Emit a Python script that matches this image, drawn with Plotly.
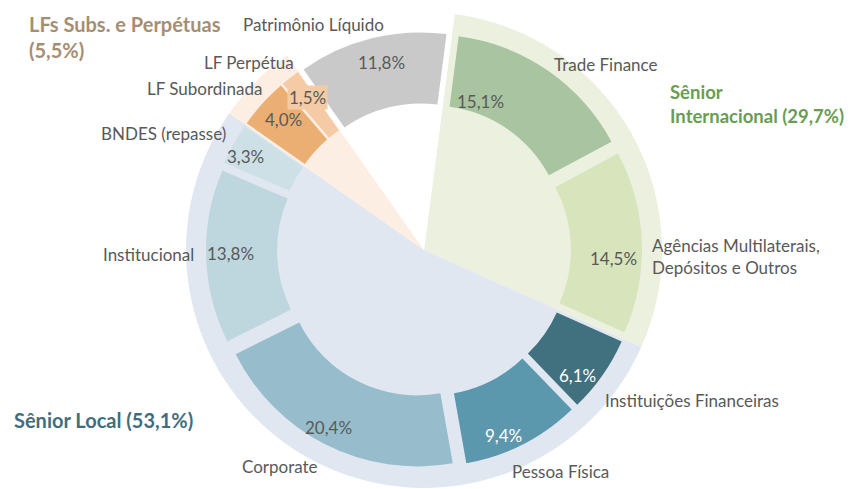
import plotly.graph_objects as go

# Inner ring: funding lines (clockwise from the top)
segments = ["Trade Finance", "Agências Multilaterais, Depósitos e Outros",
            "Instituições Financeiras", "Pessoa Física", "Corporate",
            "Institucional", "BNDES (repasse)", "LF Subordinada",
            "LF Perpétua", "Patrimônio Líquido"]
segment_values = [15.1, 14.5, 6.1, 9.4, 20.4, 13.8, 3.3, 4.0, 1.5, 11.8]
segment_group = ["intl", "intl", "local", "local", "local",
                 "local", "local", "lf", "lf", "pl"]
segment_colors = ["#A9C4A0", "#D8E4BC", "#41717F", "#5B98AE", "#97BDCC",
                  "#BED6DE", "#CDE0E6", "#ECAF73", "#F5CBA5", "#C9C9C9"]

# Outer background: groups
groups = ["intl", "local", "lf", "pl"]
group_titles = ["Sênior<br>Internacional (29,7%)", "Sênior Local (53,1%)",
                "LFs Subs. e Perpétuas<br>(5,5%)", ""]
group_colors = ["#EBF1DE", "#E1E7F1", "#FCEEE2", "#FFFFFF"]
title_colors = ["#6A9C55", "#3F6E80", "#A58E72", "#FFFFFF"]

group_values = [round(sum(v for v, g in zip(segment_values, segment_group) if g == grp), 1)
                for grp in groups]

W, H = 857, 489
OFF = 8  # the page body margin shifts the figure by 8px
CX, CY = 424 - OFF, 250 - OFF
R_OUT = 238
R_IN = 203
PULL = 0.074


def px_domain(r):
    return dict(x=[(CX - r) / W, (CX + r) / W],
                y=[max(0, 1 - (CY + r) / H), min(1, 1 - (CY - r) / H)])


def to_paper(px, py):
    return (px - OFF) / W, 1 - (py - OFF) / H


def fmt(v):
    return f"{v:.1f}".replace(".", ",") + "%"


fig = go.Figure()

fig.add_trace(go.Pie(
    values=group_values, labels=groups, sort=False, direction="clockwise",
    rotation=7.4, hole=0, textinfo="none", hoverinfo="skip",
    marker=dict(colors=group_colors, line=dict(width=0)),
    domain=px_domain(R_OUT), showlegend=False,
))

fig.add_trace(go.Pie(
    values=segment_values, labels=segments, sort=False, direction="clockwise",
    rotation=7.4, hole=0.65, textinfo="none", pull=[PULL] * len(segments),
    marker=dict(colors=segment_colors, line=dict(width=0)),
    domain=px_domain(R_IN * (1 + PULL)), showlegend=False,
))

# label positions (page px): name label, value label
name_pos = [(606, 64, "center"), (650, 257, "left"), (692, 400, "center"),
            (560, 471, "center"), (280, 466, "center"), (148, 254, "center"),
            (163, 133, "center"), (204, 89, "center"), (249, 62, "center"),
            (313, 25, "center")]
value_pos = [(480, 101), (613, 258), (577, 375), (503, 435), (328, 427),
             (230, 253), (245, 157), (283, 120), (307, 97), (381, 62)]
value_font = ["#595959", "#595959", "white", "white", "#595959",
              "#595959", "#595959", "#595959", "#595959", "#595959"]
title_pos = [(668, 104), (12, 420), (27, 37)]
title_size = [18.5, 20, 20]

annotations = []
for name, (nx, ny, al), val, (vx, vy), fc in zip(segments, name_pos, segment_values,
                                                   value_pos, value_font):
    text = name.replace(", ", ",<br>") if al == "left" else name
    x, y = to_paper(nx, ny)
    annotations.append(dict(
        x=x, y=y, xref="paper", yref="paper", text=text,
        xanchor=al, yanchor="middle", align=al, showarrow=False,
        font=dict(size=17, color="#595959"),
    ))
    box = "#F5CBA5" if name == "LF Perpétua" else None
    x, y = to_paper(vx, vy)
    annotations.append(dict(
        x=x, y=y, xref="paper", yref="paper", text=fmt(val),
        xanchor="center", yanchor="middle", showarrow=False,
        bgcolor=box, borderpad=1,
        font=dict(size=17, color=fc),
    ))

for title, color, (tx, ty), sz in zip(group_titles, title_colors, title_pos, title_size):
    x, y = to_paper(tx, ty)
    annotations.append(dict(
        x=x, y=y, xref="paper", yref="paper", text=f"<b>{title}</b>",
        xanchor="left", yanchor="middle", align="left", showarrow=False,
        font=dict(size=sz, color=color),
    ))

fig.update_layout(
    width=W, height=H,
    margin=dict(l=0, r=0, t=0, b=0),
    paper_bgcolor="white", plot_bgcolor="white",
    font=dict(family="Lato, 'Open Sans', sans-serif", color="#595959"),
    annotations=annotations,
)

fig.write_html("out.html")
